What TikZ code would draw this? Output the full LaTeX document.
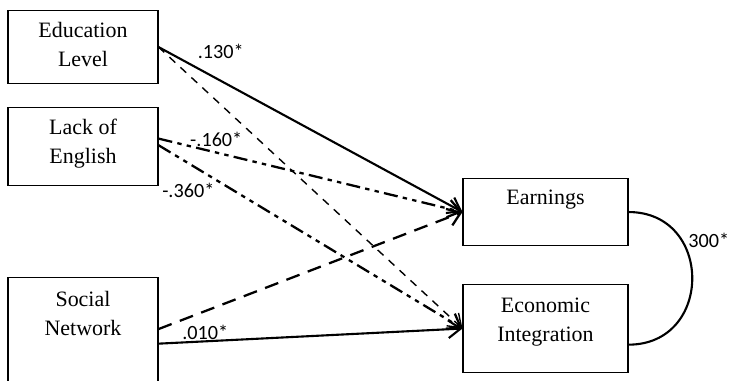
\documentclass[tikz,border=0pt]{standalone}
\usepackage{fontspec}
\setmainfont{Liberation Serif}
\newfontfamily\coeffont{Carlito}
\usetikzlibrary{arrows.meta}

\begin{document}
\begin{tikzpicture}[
  x=0.02cm, y=-0.02cm,
  font=\fontsize{12.5}{16.5}\selectfont,
  var/.style={rectangle, draw, line width=0.6pt, anchor=north, inner sep=0pt, align=center, minimum width=3cm, text height=1.12cm},
  outvar/.style={var, minimum width=3.3cm},
  coef/.style={font=\coeffont\fontsize{11.5}{13}\selectfont, inner sep=1pt},
  path/.style={-{Straight Barb[length=7pt, width=10pt]}, line width=1.3pt},
  solidpath/.style={path, line width=1.2pt},
  thinpath/.style={path, line width=0.8pt, dash pattern=on 4.5pt off 4pt},
  dotpath/.style={path, dash pattern=on 8pt off 3pt on 2.5pt off 3pt on 2.5pt off 3pt},
  longpath/.style={path, dash pattern=on 8pt off 5pt}
]
  \clip (0,0) rectangle (730,380);
  % predictors
  \node[var, text depth=0.34cm] (edu) at (83,10) {Education\\Level};
  \node[var, text depth=0.44cm] (lack) at (83,107) {Lack of\\English};
  \node[var, text height=1.16cm, text depth=1.38cm] (soc) at (83,277) {Social\\Network};
  % outcomes
  \node[outvar, text height=0.52cm, text depth=0.82cm] (earn) at (545.5,178) {Earnings};
  \node[outvar, text height=1.14cm, text depth=0.62cm] (econ) at (545.5,284) {Economic\\Integration};
  % paths
  \draw[solidpath] (edu.east) -- node[coef, pos=0.12, anchor=south west, yshift=3pt] {.130*} (earn.west);
  \draw[thinpath] (edu.east) -- (econ.west);
  \draw[dotpath] (lack.6) -- node[coef, pos=0.19, anchor=south, yshift=1.5pt] {-.160*} (earn.west);
  \draw[dotpath] (lack.1) -- node[coef, pos=0, anchor=north west, xshift=0.5pt, yshift=-20pt] {-.360*} (econ.west);
  \draw[longpath] (soc.9.5) -- (earn.west);
  \draw[solidpath] (soc.-2) -- node[coef, pos=0.154, anchor=south, inner sep=0.5pt] {.010*} (econ.west);
  % covariance
  \draw[line width=1.2pt] (earn.east) .. controls +(85,0) and +(85,0) .. node[coef, pos=0.3, anchor=west, xshift=2pt] {300*} (econ.-11);
\end{tikzpicture}
\end{document}
